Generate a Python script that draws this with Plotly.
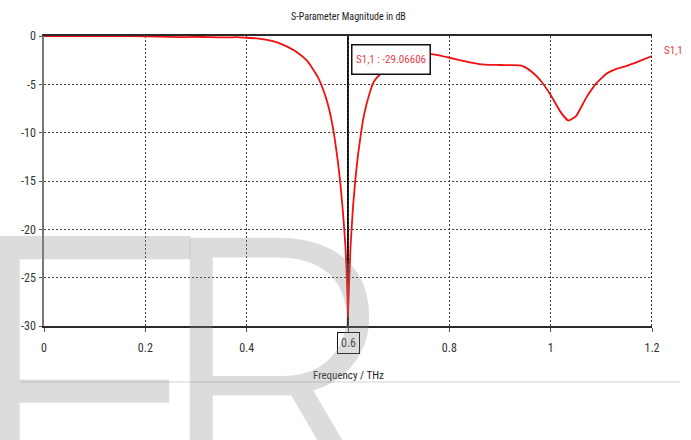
import plotly.graph_objects as go

# S11 magnitude (dB) versus frequency (THz)
freq_thz = [0, 0.05, 0.1, 0.15, 0.2, 0.25, 0.28, 0.3, 0.33, 0.36, 0.38, 0.4,
            0.42, 0.44, 0.46, 0.48, 0.5, 0.52, 0.54, 0.55, 0.56, 0.57, 0.58,
            0.585, 0.59, 0.595, 0.598, 0.6, 0.602, 0.605, 0.61, 0.615, 0.62,
            0.625, 0.63, 0.635, 0.64, 0.644, 0.648, 0.652, 0.657, 0.665,
            0.675, 0.69, 0.71, 0.73, 0.75, 0.765, 0.78, 0.80, 0.82, 0.84,
            0.86, 0.88, 0.90, 0.92, 0.94, 0.95, 0.965, 0.98, 1.0, 1.02, 1.035,
            1.05, 1.07, 1.09, 1.11, 1.13, 1.15, 1.175, 1.2]
s11_db = [0.0, -0.01, -0.01, -0.02, -0.03, -0.1, -0.12, -0.08, -0.12, -0.15,
          -0.12, -0.18, -0.25, -0.4, -0.65, -1.1, -1.7, -2.6, -4.2, -5.4, -7.0,
          -9.4, -13.0, -15.3, -18.2, -21.8, -25.5, -29.06606, -26.0, -21.8,
          -17.6, -14.6, -12.2, -10.3, -8.6, -7.4, -6.4, -5.7, -5.05, -4.65,
          -4.3, -3.9, -3.4, -2.8, -2.3, -2.0, -1.87, -1.88, -2.0, -2.25, -2.5,
          -2.72, -2.9, -2.98, -3.0, -3.02, -3.05, -3.25, -3.8, -4.6, -6.1,
          -7.9, -8.75, -8.3, -6.4, -4.9, -3.9, -3.4, -3.1, -2.6, -2.07]

x_ticks = [0, 0.2, 0.4, 0.6, 0.8, 1.0, 1.2]
x_tick_text = ["0", "0.2", "0.4", "", "0.8", "1", "1.2"]
y_ticks = [-30, -25, -20, -15, -10, -5, 0]
y_tick_text = ["-30", "-25", "-20", "-15", "-10", "-5", "0"]

marker_freq = 0.6
marker_label = "S1,1 : -29.06606"
trace_name = "S1,1"

NARROW = ("'Liberation Sans Narrow', 'Roboto Condensed', 'DejaVu Sans Condensed', "
          "'Arial Narrow', 'Liberation Sans', Arial, sans-serif")
RED = "#f01010"
LABEL_RED = "#e8404a"
GRID = "#3c3c3c"

W, H = 691, 440
L, R, T, B = 44, 39, 36, 114
PW, PH = W - L - R, H - T - B


def px_x(px):
    return (px - L) / PW


def px_y(py):
    return (H - B - py) / PH


fig = go.Figure()
fig.add_trace(go.Scatter(
    x=freq_thz, y=s11_db, mode="lines", name=trace_name,
    line=dict(color=RED, width=1.8, shape="spline", smoothing=0.4),
    hoverinfo="x+y",
))

axis_common = dict(
    showgrid=True, gridcolor=GRID, gridwidth=1, griddash="2px,2px",
    zeroline=False, ticks="outside", tickcolor="#555",
    tickfont=dict(family=NARROW, size=12, color="#333"),
    layer="below traces",
)

fig.update_layout(
    width=W, height=H,
    margin=dict(l=L, r=R, t=T, b=B, pad=0),
    paper_bgcolor="white", plot_bgcolor="white",
    showlegend=False,
    xaxis=dict(range=[0, 1.2], tickvals=x_ticks, ticktext=x_tick_text,
               showline=True, linecolor="#2a2a2a", linewidth=2, mirror=True,
               ticklen=4, ticklabelstandoff=6, **axis_common),
    yaxis=dict(range=[-30, 0], tickvals=y_ticks, ticktext=y_tick_text,
               showline=True, linecolor="#777", linewidth=1.5,
               ticklen=3, ticklabelstandoff=1, **axis_common),
)

shapes = [
    # dotted right frame at the end of the sweep
    dict(type="line", xref="x", yref="paper", x0=1.2, x1=1.2, y0=0, y1=1,
         line=dict(color="#333", width=2, dash="2px,2px"), layer="above"),
    # frequency marker
    dict(type="line", xref="x", yref="paper", x0=marker_freq, x1=marker_freq,
         y0=0, y1=1, line=dict(color="#111", width=2), layer="below"),
    # light separator under the axis title
    dict(type="line", xref="paper", yref="paper", x0=px_x(20), x1=px_x(680),
         y0=px_y(382), y1=px_y(382), line=dict(color="#e8e8e8", width=2)),
]
fig.update_layout(shapes=shapes)


def watermark(size):
    return dict(family="Roboto", size=size, weight=300,
                color="rgba(140,140,140,0.3)")


annotations = [
    dict(text="S-Parameter Magnitude in dB", xref="paper", yref="paper",
         x=0.5, y=px_y(16), xanchor="center", yanchor="middle",
         showarrow=False, font=dict(family=NARROW, size=10, color="#222")),
    dict(text="Frequency / THz", xref="paper", yref="paper",
         x=0.5, y=px_y(375), xanchor="center", yanchor="middle",
         showarrow=False, font=dict(family=NARROW, size=11, color="#222")),
    dict(text=str(marker_freq), xref="x", yref="paper", x=marker_freq,
         y=px_y(343), xanchor="center", yanchor="middle", showarrow=False,
         bordercolor="#111", borderwidth=1, borderpad=3, bgcolor="white",
         font=dict(family=NARROW, size=12, color="#333")),
    dict(text=marker_label, xref="paper", yref="paper",
         x=px_x(390.5), y=px_y(59), xanchor="center", yanchor="middle",
         showarrow=False, bgcolor="white", bordercolor="#111", borderwidth=1.5,
         width=75, height=26, font=dict(family=NARROW, size=11, color=LABEL_RED)),
    dict(text=trace_name, xref="paper", yref="paper",
         x=px_x(662), y=px_y(50), xanchor="left", yanchor="middle",
         showarrow=False, font=dict(family=NARROW, size=11, color=LABEL_RED)),
    # faint watermark lettering
    dict(text="E", xref="paper", yref="paper",
         x=px_x(-50), y=px_y(137), xanchor="left", yanchor="top",
         showarrow=False, font=watermark(450)),
    dict(text="R", xref="paper", yref="paper",
         x=px_x(154), y=px_y(153), xanchor="left", yanchor="top",
         showarrow=False, font=watermark(380)),
]
fig.update_layout(annotations=annotations)

fig.write_html("out.html")
